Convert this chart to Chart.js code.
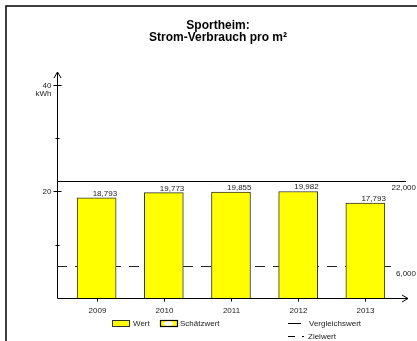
<!DOCTYPE html>
<html><head><meta charset="utf-8">
<script src="https://cdn.jsdelivr.net/npm/chart.js@4/dist/chart.umd.min.js"></script>
<style>html,body{margin:0;padding:0;background:#fff}canvas{display:block}</style>
</head>
<body><canvas id="c" width="417" height="341"></canvas>
<script>
const titleLines = ['Sportheim:', 'Strom-Verbrauch pro m²'];
const categories = ['2009', '2010', '2011', '2012', '2013'];
const wert = [18.793, 19.773, 19.855, 19.982, 17.793];
const vergleichswert = 22;
const zielwert = 6;
const yTicks = [10, 20, 30, 40];
const yTickLabels = ['', '20', '', '40'];
const yUnit = 'kWh';
const legendNames = ['Wert', 'Schätzwert', 'Vergleichswert', 'Zielwert'];

const fmt = v => v.toFixed(3).replace('.', ',');
const FONT = '"Liberation Sans", Arial, sans-serif';
const TXT = '#222';

const drawPlugin = {
  id: 'drawPlugin',
  beforeDraw(chart) {
    const ctx = chart.ctx;
    ctx.save();
    ctx.fillStyle = '#fff';
    ctx.fillRect(0, 0, chart.width, chart.height);
    ctx.strokeStyle = '#000';
    ctx.lineWidth = 1.5;
    ctx.beginPath();
    ctx.moveTo(6, 345); ctx.lineTo(6, 6); ctx.lineTo(420, 6);
    ctx.stroke();
    ctx.fillStyle = '#000';
    ctx.font = 'bold 12px ' + FONT;
    ctx.textAlign = 'center';
    ctx.textBaseline = 'middle';
    ctx.fillText(titleLines[0], 218, 26);
    ctx.fillText(titleLines[1], 218, 38);
    ctx.restore();
  },
  beforeDatasetsDraw(chart) {
    const ctx = chart.ctx, x = chart.scales.x, y = chart.scales.y;
    ctx.save();
    const yV = Math.round(y.getPixelForValue(vergleichswert)) + 0.5;
    const yZ = Math.round(y.getPixelForValue(zielwert)) + 0.5;
    ctx.strokeStyle = '#000';
    ctx.lineWidth = 1;
    ctx.beginPath(); ctx.moveTo(x.left, yV); ctx.lineTo(406, yV); ctx.stroke();
    ctx.strokeStyle = '#222';
    ctx.setLineDash([10, 8]);
    ctx.beginPath(); ctx.moveTo(x.left, yZ); ctx.lineTo(391, yZ); ctx.stroke();
    ctx.setLineDash([]);
    ctx.fillStyle = TXT;
    ctx.font = '8px ' + FONT;
    ctx.textAlign = 'right';
    ctx.textBaseline = 'middle';
    ctx.fillText(fmt(vergleichswert), 416, yV + 6);
    ctx.fillText(fmt(zielwert), 416, yZ + 7);
    ctx.restore();
  },
  afterDatasetsDraw(chart) {
    const ctx = chart.ctx, x = chart.scales.x, y = chart.scales.y;
    ctx.save();
    const ax = Math.round(x.left) + 0.5;
    const ay = Math.round(y.bottom) + 0.5;
    ctx.strokeStyle = '#000';
    ctx.lineWidth = 1;
    ctx.beginPath(); ctx.moveTo(ax, ay); ctx.lineTo(ax, y.top); ctx.stroke();
    ctx.beginPath(); ctx.moveTo(ax - 3.5, y.top + 6); ctx.lineTo(ax, y.top); ctx.lineTo(ax + 3.5, y.top + 6); ctx.stroke();
    ctx.beginPath(); ctx.moveTo(ax, ay); ctx.lineTo(x.right + 1, ay); ctx.stroke();
    ctx.beginPath(); ctx.moveTo(x.right - 5, ay - 3.5); ctx.lineTo(x.right + 1, ay); ctx.lineTo(x.right - 5, ay + 3.5); ctx.stroke();
    ctx.fillStyle = TXT;
    ctx.font = '8px ' + FONT;
    ctx.textBaseline = 'middle';
    ctx.textAlign = 'right';
    yTicks.forEach((t, i) => {
      const py = Math.round(y.getPixelForValue(t)) + 0.5;
      const lbl = yTickLabels[i];
      const w = lbl ? 4 : 2;
      ctx.beginPath(); ctx.moveTo(ax - w, py); ctx.lineTo(ax + w, py); ctx.stroke();
      if (lbl) ctx.fillText(lbl, ax - 6, py);
    });
    ctx.fillText(yUnit, ax - 6, y.getPixelForValue(yTicks[yTicks.length - 1]) + 9);
    ctx.textAlign = 'center';
    categories.forEach((c, i) => {
      const px = Math.round(x.getPixelForValue(i)) + 0.5;
      ctx.beginPath(); ctx.moveTo(px, ay); ctx.lineTo(px, ay + 3); ctx.stroke();
      ctx.fillText(c, px, ay + 12);
    });
    ctx.textAlign = 'right';
    ctx.textBaseline = 'alphabetic';
    const meta = chart.getDatasetMeta(0);
    meta.data.forEach((el, i) => {
      ctx.fillText(fmt(wert[i]), el.x + el.width / 2 + 1, el.y - 2);
    });
    ctx.textAlign = 'left';
    ctx.textBaseline = 'middle';
    ctx.fillStyle = '#ffff00';
    ctx.fillRect(112, 320, 17, 6);
    ctx.strokeStyle = '#333';
    ctx.strokeRect(112.5, 320.5, 17, 6);
    ctx.fillStyle = TXT;
    ctx.fillText(legendNames[0], 133, 323.5);
    ctx.fillStyle = '#ffff00';
    ctx.fillRect(160, 320, 17, 6);
    ctx.fillStyle = '#fff';
    ctx.beginPath(); ctx.ellipse(168.5, 323.5, 4.5, 2.5, 0, 0, Math.PI * 2); ctx.fill();
    ctx.strokeStyle = '#000';
    ctx.lineWidth = 1.2;
    ctx.strokeRect(160.5, 320.5, 17, 6);
    ctx.lineWidth = 1;
    ctx.fillStyle = TXT;
    ctx.fillText(legendNames[1], 180, 323.5);
    ctx.strokeStyle = '#000';
    ctx.beginPath(); ctx.moveTo(288, 323.5); ctx.lineTo(301, 323.5); ctx.stroke();
    ctx.fillText(legendNames[2], 309, 323.5);
    ctx.beginPath(); ctx.moveTo(288, 336.5); ctx.lineTo(295, 336.5); ctx.moveTo(302, 336.5); ctx.lineTo(304, 336.5); ctx.stroke();
    ctx.fillText(legendNames[3], 308, 336.5);
    ctx.restore();
  }
};

new Chart(document.getElementById('c'), {
  type: 'bar',
  data: {
    datasets: [{
      label: legendNames[0],
      data: categories.map((c, i) => ({ x: i, y: wert[i] })),
      backgroundColor: '#ffff00',
      borderColor: '#333',
      borderWidth: 1,
      barThickness: 39
    }]
  },
  options: {
    responsive: false,
    animation: false,
    devicePixelRatio: 1,
    layout: { padding: { left: 57, right: 10, top: 72, bottom: 43 } },
    plugins: { legend: { display: false }, title: { display: false }, tooltip: { enabled: false } },
    scales: {
      x: { type: 'linear', min: -0.59, max: 4.62, offset: false, display: false },
      y: { min: 0, max: 42.4, display: false }
    }
  },
  plugins: [drawPlugin]
});
</script>
</body></html>
